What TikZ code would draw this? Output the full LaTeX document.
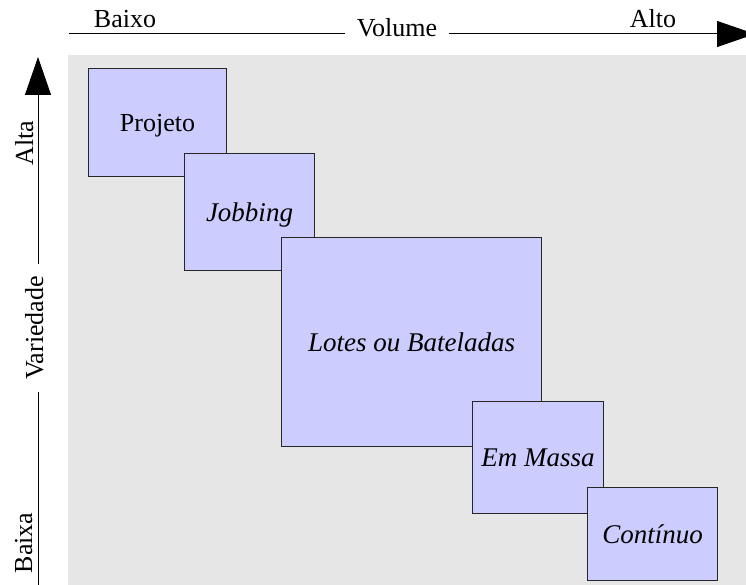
\documentclass[tikz,border=0pt]{standalone}
\usepackage{fontspec}
\setmainfont{Liberation Serif}
\usetikzlibrary{arrows.meta}
\definecolor{panel}{HTML}{E6E6E6}
\definecolor{boxfill}{HTML}{CCCCFF}
\begin{document}
\begin{tikzpicture}[x=1pt,y=-1pt,
  lbl/.style={font=\fontsize{26}{30}\selectfont, inner sep=0pt},
  gaplbl/.style={lbl, fill=white, inner xsep=12pt, inner ysep=2pt},
  stage/.style={draw=black!85, line width=1pt, fill=boxfill, anchor=north west,
    font=\fontsize{26}{30}\selectfont, text height=18.5pt, text depth=0pt, inner sep=0pt},
  kind/.style={stage, font=\fontsize{27}{31}\selectfont\itshape},
  axis/.style={line width=1pt, -{Triangle[length=38pt,width=26pt]}}]
\useasboundingbox (0,0) rectangle (746,585);

% shaded field behind the process types
\fill[panel] (68,55) rectangle (746,585);

% volume axis
\coordinate (hstart) at (69,34);
\coordinate (hend) at (755,34);
\draw[axis] (hstart) -- (hend);
\node[gaplbl, anchor=base] (volume) at (397,37) {Volume};
\node[lbl, anchor=base] (baixo) at (125,28) {Baixo};
\node[lbl, anchor=base] (alto) at (653,28) {Alto};

% variety axis
\coordinate (vstart) at (38,585);
\coordinate (vend) at (38,57);
\draw[axis] (vstart) -- (vend);
\node[gaplbl, rotate=90, anchor=base] (variedade) at (43,328) {Variedade};
\node[lbl, rotate=90, anchor=base] (alta) at (33,143) {Alta};
\node[lbl, rotate=90, anchor=base] (baixa) at (32,543) {Baixa};

% process types, each overlapping the previous one
\node[stage, minimum width=138pt, minimum height=108pt] (projeto) at (88,68) {Projeto};
\node[kind, minimum width=130pt, minimum height=117pt] (jobbing) at (184,153) {Jobbing};
\node[kind, minimum width=260pt, minimum height=209pt] (lotes) at (281,237) {Lotes ou Bateladas};
\node[kind, minimum width=131pt, minimum height=112pt] (massa) at (472,401) {Em Massa};
\node[kind, minimum width=130pt, minimum height=93pt] (continuo) at (587,487) {Contínuo};
\end{tikzpicture}
\end{document}
